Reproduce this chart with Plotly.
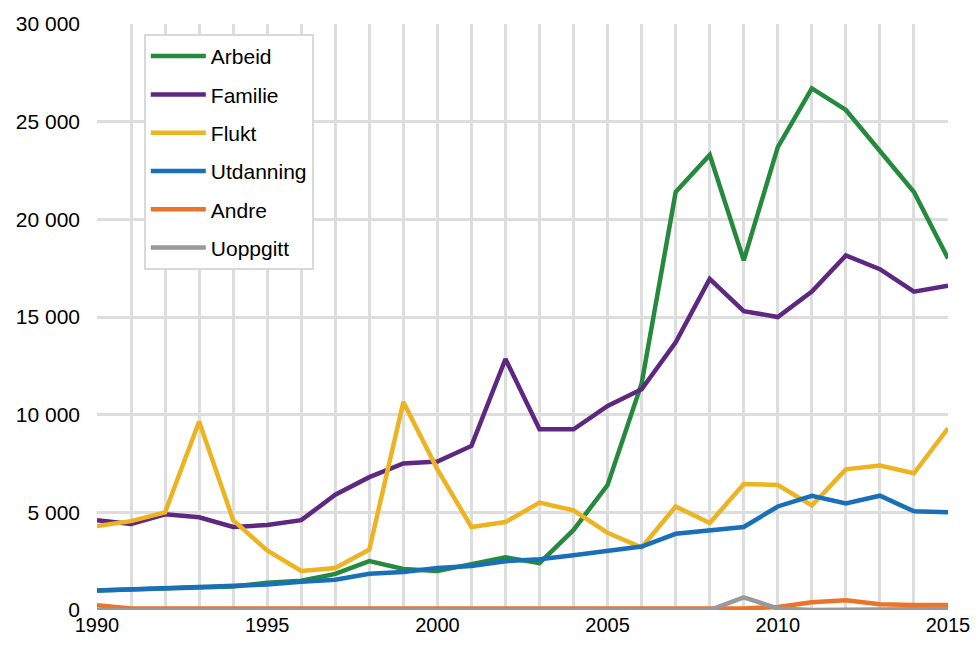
import plotly.graph_objects as go

YEARS = list(range(1990, 2016))

ARBEID = [1000, 1050, 1100, 1100, 1200, 1400, 1500, 1850, 2500, 2100, 2000, 2350, 2700, 2400,
          4100, 6400, 11600, 21400, 23300, 17900, 23700, 26700, 25600, 23500, 21400, 18000]
FAMILIE = [4600, 4400, 4900, 4750, 4250, 4350, 4600, 5900, 6800, 7500, 7600, 8400, 12850, 9250,
           9250, 10450, 11300, 13700, 16950, 15300, 15000, 16300, 18150, 17450, 16300, 16600]
FLUKT = [4300, 4550, 5000, 9650, 4600, 3050, 2000, 2150, 3100, 10650, 7200, 4250, 4500, 5500,
         5100, 3950, 3200, 5300, 4450, 6450, 6400, 5350, 7200, 7400, 7000, 9300]
UTDANNING = [1000, 1050, 1150, 1200, 1250, 1300, 1450, 1550, 1850, 1950, 2150, 2250, 2500, 2600,
             2800, 3050, 3250, 3900, 4050, 4250, 5300, 5850, 5450, 5850, 5050, 5000]
ANDRE = [250, 80, 80, 80, 80, 80, 80, 80, 80, 80, 80, 80, 100, 80,
         80, 80, 80, 80, 80, 80, 150, 400, 500, 300, 250, 250]
UOPPGITT = [0, 0, 0, 0, 0, 0, 0, 0, 0, 0, 0, 0, 0, 0,
            0, 0, 0, 0, 0, 650, 80, 0, 0, 0, 50, 50]

SERIES = [
    ("Arbeid", ARBEID, "#268a3e"),
    ("Familie", FAMILIE, "#5e2880"),
    ("Flukt", FLUKT, "#ecb323"),
    ("Utdanning", UTDANNING, "#1a70b8"),
    ("Andre", ANDRE, "#ec7428"),
    ("Uoppgitt", UOPPGITT, "#999999"),
]

Y_TICKS = [0, 5000, 10000, 15000, 20000, 25000, 30000]
Y_TICK_TEXT = ["0", "5 000", "10 000", "15 000", "20 000", "25 000", "30 000"]
X_TICKS = [1990, 1995, 2000, 2005, 2010, 2015]

GRID = "#dddddd"

fig = go.Figure()
for name, values, color in SERIES:
    fig.add_trace(
        go.Scatter(
            x=YEARS,
            y=values,
            mode="lines",
            name=name,
            legendgroup=name,
            line={"color": color, "width": 4.5},
        )
    )

# the page body adds 8px on every side, so the figure is sized to fit the window without scrollbars
fig.update_layout(
    width=963,
    height=630,
    paper_bgcolor="white",
    plot_bgcolor="white",
    font={"family": "Liberation Sans, Arial, sans-serif", "size": 21, "color": "#000000"},
    margin={"l": 89, "r": 23, "t": 16, "b": 28},
    showlegend=True,
    legend={
        "x": 0.055,
        "y": 0.983,
        "xanchor": "left",
        "yanchor": "top",
        "traceorder": "grouped",
        "tracegroupgap": 8,
        "itemwidth": 55,
        "bgcolor": "white",
        "bordercolor": "#d9d9d9",
        "borderwidth": 2,
        "font": {"size": 21},
    },
)
fig.update_xaxes(
    range=[1990, 2015],
    tickvals=X_TICKS,
    showgrid=True,
    gridcolor=GRID,
    gridwidth=2.5,
    minor={"dtick": 1, "showgrid": True, "gridcolor": GRID, "gridwidth": 2.5},
    zeroline=False,
    showline=False,
    ticks="",
    ticklabelstandoff=1,
    tickfont={"size": 20},
    automargin=False,
)
fig.update_yaxes(
    range=[0, 30000],
    tickvals=Y_TICKS,
    ticktext=Y_TICK_TEXT,
    showgrid=True,
    gridcolor=GRID,
    gridwidth=2.5,
    zeroline=False,
    showline=False,
    ticks="",
    ticklabelstandoff=16,
    tickfont={"size": 21},
    automargin=False,
)

fig.write_html("out.html")
